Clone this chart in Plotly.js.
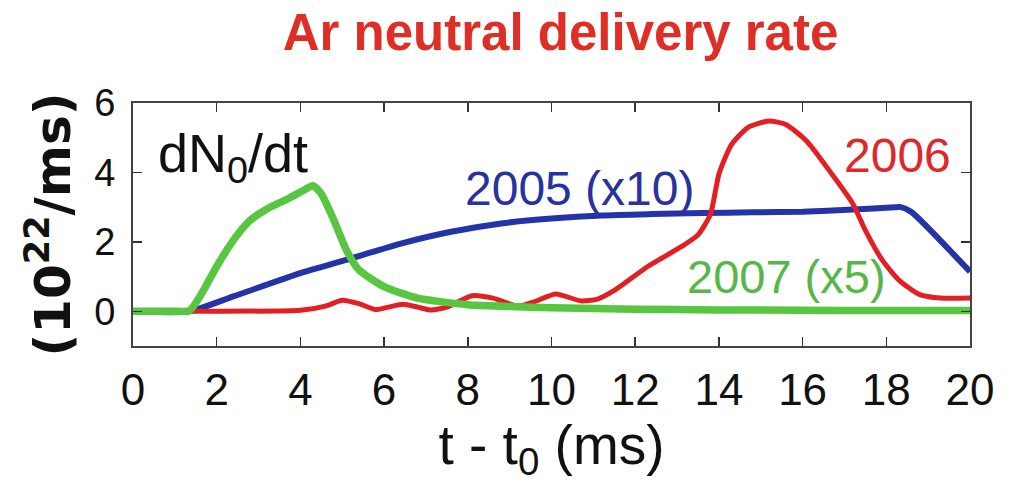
<!DOCTYPE html>
<html>
<head>
<meta charset="utf-8">
<script src="https://cdn.plot.ly/plotly-3.0.1.min.js"></script>
<style>html,body{margin:0;padding:0;background:#fff;}#chart{width:1010px;height:494px;}</style>
</head>
<body>
<div id="chart"></div>
<script>
// 2005 (x10) - blue
const x2005 = [0, 1.35, 2.4, 4.0, 5.2, 6.4, 7.6, 8.8, 10.0, 11.2, 12.4, 13.6, 14.8, 16.0, 17.2, 18.0, 18.35, 18.6, 20.0];
const y2005 = [0, 0, 0.43, 1.1, 1.52, 1.95, 2.29, 2.53, 2.67, 2.76, 2.8, 2.83, 2.85, 2.87, 2.93, 2.98, 3.0, 2.86, 1.14];
// 2006 - red
const x2006 = [0, 1.35, 4.0, 4.6, 5.0, 5.4, 5.8, 6.1, 6.45, 6.8, 7.1, 7.5, 8.1, 8.6, 9.2, 9.6, 10.1, 10.7, 11.1, 11.5, 12.3, 13.1, 13.5, 13.8, 14.0, 14.3, 14.7, 15.2, 15.6, 16.1, 16.7, 17.2, 17.5, 17.9, 18.3, 18.8, 19.3, 20.0];
const y2006 = [0, 0, 0.03, 0.15, 0.32, 0.22, 0.05, 0.12, 0.2, 0.12, 0.04, 0.12, 0.45, 0.38, 0.15, 0.28, 0.5, 0.3, 0.35, 0.6, 1.29, 1.86, 2.2, 2.8, 3.95, 4.8, 5.3, 5.48, 5.38, 4.9, 3.95, 3.1, 2.33, 1.48, 0.9, 0.48, 0.38, 0.38];
// 2007 (x5) - green
const x2007 = [0, 1.0, 1.35, 1.6, 2.0, 2.4, 2.8, 3.2, 3.7, 4.1, 4.3, 4.5, 4.8, 5.1, 5.4, 6.0, 6.8, 8.0, 9.0, 10.0, 12.0, 14.0, 16.0, 18.0, 20.0];
const y2007 = [0, 0, 0.02, 0.43, 1.29, 2.05, 2.62, 2.95, 3.24, 3.5, 3.62, 3.38, 2.62, 1.76, 1.19, 0.71, 0.38, 0.19, 0.14, 0.1, 0.06, 0.04, 0.03, 0.02, 0.02];

const xTicks = [0, 2, 4, 6, 8, 10, 12, 14, 16, 18, 20];
const yTicks = [0, 2, 4, 6];

const chartTitle = 'Ar neutral delivery rate';
const xTitle = 't - t<sub>0</sub> (ms)';
const yTitle = '(10<sup>22</sup>/ms)';
const labelQuantity = 'dN<sub>0</sub>/dt';
const label2005 = '2005 (x10)';
const label2006 = '2006';
const label2007 = '2007 (x5)';

const SANS = '"Liberation Sans", Arial, Helvetica, sans-serif';

const traces = [
  {x: x2005, y: y2005, mode: 'lines', line: {color: 'rgb(36,52,168)', width: 6, shape: 'spline', smoothing: 0.6}, name: '2005 (x10)'},
  {x: x2006, y: y2006, mode: 'lines', line: {color: 'rgb(226,32,36)', width: 5, shape: 'spline', smoothing: 0.6}, name: '2006'},
  {x: x2007, y: y2007, mode: 'lines', line: {color: 'rgb(88,198,64)', width: 7.5, shape: 'spline', smoothing: 0.6}, name: '2007 (x5)'}
];

const layout = {
  width: 1010, height: 494,
  margin: {l: 133, r: 40, t: 103, b: 148},
  paper_bgcolor: '#fff', plot_bgcolor: '#fff',
  showlegend: false,
  title: {
    text: '<b>' + chartTitle + '</b>',
    font: {family: SANS, size: 51, color: 'rgb(222,46,38)'},
    x: 0.555, xanchor: 'center', xref: 'container',
    y: 0.935, yanchor: 'middle', yref: 'container'
  },
  xaxis: {
    range: [0, 20], tickvals: xTicks, ticktext: xTicks.map(String),
    ticks: 'inside', ticklen: 9, tickwidth: 1.5, tickcolor: '#333',
    showline: true, linecolor: '#444', linewidth: 2, mirror: 'ticks',
    showgrid: false, zeroline: false,
    tickfont: {family: SANS, size: 44, color: '#111'},
    ticklabelstandoff: 4,
    title: {text: xTitle, font: {family: SANS, size: 55, color: '#111'}, standoff: 6}
  },
  yaxis: {
    range: [-1, 6], tickvals: yTicks, ticktext: yTicks.map(String),
    ticks: 'inside', ticklen: 9, tickwidth: 1.5, tickcolor: '#333',
    showline: true, linecolor: '#444', linewidth: 2, mirror: 'ticks',
    showgrid: false, zeroline: false,
    tickfont: {family: SANS, size: 38, color: '#111'},
    ticklabelstandoff: 8,
    title: {text: '<b>' + yTitle + '</b>', font: {family: '"DejaVu Sans", ' + SANS, size: 50, color: '#111'}, standoff: 8}
  },
  annotations: [
    {x: 0.55, y: 4.45, xref: 'x', yref: 'y', text: labelQuantity, showarrow: false, xanchor: 'left', yanchor: 'middle',
     font: {family: SANS, size: 54, color: '#111'}},
    {x: 10.66, y: 3.55, xref: 'x', yref: 'y', text: label2005, showarrow: false, xanchor: 'center', yanchor: 'middle',
     font: {family: SANS, size: 48, color: 'rgb(40,50,158)'}},
    {x: 18.27, y: 4.5, xref: 'x', yref: 'y', text: label2006, showarrow: false, xanchor: 'center', yanchor: 'middle',
     font: {family: SANS, size: 48, color: 'rgb(222,40,44)'}},
    {x: 15.61, y: 1.0, xref: 'x', yref: 'y', text: label2007, showarrow: false, xanchor: 'center', yanchor: 'middle',
     font: {family: SANS, size: 47, color: 'rgb(84,184,70)'}}
  ]
};

Plotly.newPlot('chart', traces, layout, {staticPlot: true, displayModeBar: false});
</script>
</body>
</html>
